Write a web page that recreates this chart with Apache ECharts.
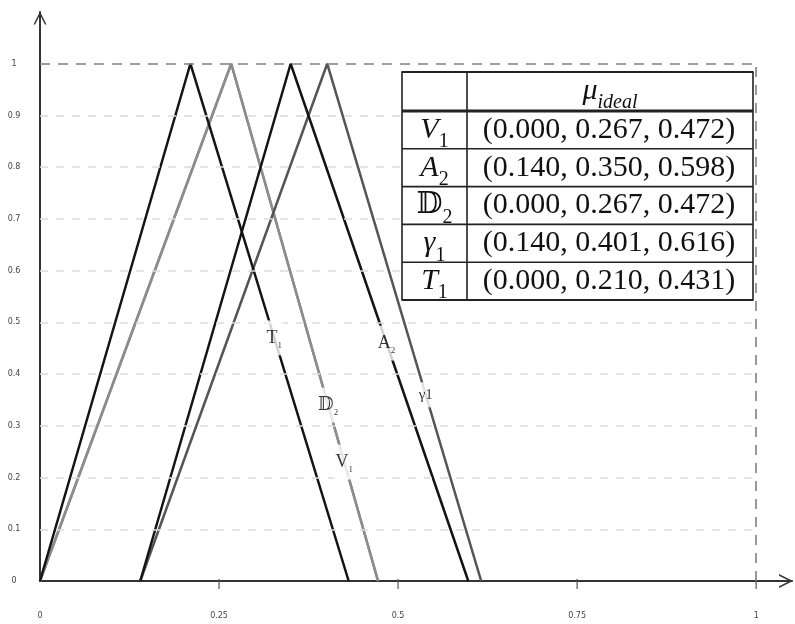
<!DOCTYPE html>
<html>
<head>
<meta charset="utf-8">
<script src="https://cdn.jsdelivr.net/npm/echarts@6/dist/echarts.min.js"></script>
<style>html,body{margin:0;padding:0;background:#fff;}#c{width:795px;height:624px;}</style>
</head>
<body>
<div id="c"></div>
<script>
// ---- data ----
const xTicks = [0, 0.25, 0.5, 0.75, 1];
const yTicks = [0.1, 0.2, 0.3, 0.4, 0.5, 0.6, 0.7, 0.8, 0.9];
const V1 = [0.000, 0.267, 0.472];
const A2 = [0.140, 0.350, 0.598];
const D2 = [0.000, 0.267, 0.472];
const G1 = [0.140, 0.401, 0.616];
const T1 = [0.000, 0.210, 0.431];
// label heights (membership value where the on-line label sits)
const labelY = { T1: 0.47, A2: 0.46, D2: 0.34, V1: 0.23, G1: 0.36 };

const tri = t => [[t[0], 0], [t[1], 1], [t[2], 0]];
const onDesc = (t, y) => [t[2] - y * (t[2] - t[1]), y];

const SERIF = "'Liberation Serif','DejaVu Serif',serif";
const chart = echarts.init(document.getElementById('c'), null, { renderer: 'canvas' });

function lineSeries(name, t, color) {
  return { name, type: 'line', data: tri(t), symbol: 'none', silent: true,
    lineStyle: { color, width: 2.5 }, z: 3 };
}

const labelRich = {
  m: { fontFamily: SERIF, fontSize: 18, color: '#000' },
  s: { fontFamily: SERIF, fontSize: 9, color: '#000', padding: [16, 0, 0, 0] },
  g: { fontFamily: SERIF, fontSize: 15, color: '#000' }
};
const labelPts = [
  { value: onDesc(T1, labelY.T1), txt: '{m|T}{s|1}' },
  { value: onDesc(A2, labelY.A2), txt: '{m|A}{s|2}' },
  { value: onDesc(D2, labelY.D2), txt: '{m|𝔻}{s|2}' },
  { value: onDesc(V1, labelY.V1), txt: '{m|V}{s|1}' },
  { value: onDesc(G1, labelY.G1), txt: '{g|γ1}' }
];

// table
const tableRows = [
  ['V', '1', V1, 'italic'], ['A', '2', A2, 'italic'], ['𝔻', '2', D2, 'normal'],
  ['γ', '1', G1, 'italic'], ['T', '1', T1, 'italic']
];
const tbl = { left: 402, right: 753, top: 72, headBottom: 111, rowH: 37.8, col: 467 };
const graphics = [];
const tBottom = tbl.headBottom + tableRows.length * tbl.rowH;
graphics.push({ type: 'rect', shape: { x: tbl.left, y: tbl.top, width: tbl.right - tbl.left, height: tBottom - tbl.top },
  style: { fill: '#fff', stroke: '#222', lineWidth: 1.6 }, z: 10 });
graphics.push({ type: 'line', shape: { x1: tbl.left, y1: tbl.top, x2: tbl.right, y2: tbl.top }, style: { stroke: '#222', lineWidth: 2 }, z: 11 });
graphics.push({ type: 'line', shape: { x1: tbl.left, y1: tbl.headBottom, x2: tbl.right, y2: tbl.headBottom }, style: { stroke: '#222', lineWidth: 3 }, z: 11 });
graphics.push({ type: 'line', shape: { x1: tbl.left, y1: tBottom, x2: tbl.right, y2: tBottom }, style: { stroke: '#222', lineWidth: 2 }, z: 11 });
graphics.push({ type: 'line', shape: { x1: tbl.col, y1: tbl.top, x2: tbl.col, y2: tBottom }, style: { stroke: '#222', lineWidth: 1.6 }, z: 11 });
graphics.push({ type: 'text', x: (tbl.col + tbl.right) / 2, y: (tbl.top + tbl.headBottom) / 2, z: 12,
  style: { text: '{m|μ}{s|ideal}', align: 'center', verticalAlign: 'middle',
    rich: { m: { fontFamily: SERIF, fontStyle: 'italic', fontSize: 30, fill: '#111' },
            s: { fontFamily: SERIF, fontStyle: 'italic', fontSize: 20, fill: '#111', padding: [22, 0, 0, 0] } } } });
tableRows.forEach((r, i) => {
  const y0 = tbl.headBottom + i * tbl.rowH;
  if (i > 0) graphics.push({ type: 'line', shape: { x1: tbl.left, y1: y0, x2: tbl.right, y2: y0 }, style: { stroke: '#222', lineWidth: 1.6 }, z: 11 });
  const cy = y0 + tbl.rowH / 2;
  graphics.push({ type: 'text', x: (tbl.left + tbl.col) / 2, y: cy, z: 12,
    style: { text: '{m|' + r[0] + '}{s|' + r[1] + '}', align: 'center', verticalAlign: 'middle',
      rich: { m: { fontFamily: SERIF, fontStyle: r[3], fontSize: 30, fill: '#111' },
              s: { fontFamily: SERIF, fontSize: 20, fill: '#111', padding: [24, 0, 0, 0] } } } });
  graphics.push({ type: 'text', x: (tbl.col + tbl.right) / 2 - 1, y: cy, z: 12,
    style: { text: '(' + r[2].map(v => v.toFixed(3)).join(', ') + ')', align: 'center', verticalAlign: 'middle',
      fontFamily: SERIF, fontSize: 30, fill: '#111' } });
});

const chevron = 'path://M0,12 L6,0 L12,12 L10.5,12 L6,3 L1.5,12 Z';

const option = {
  backgroundColor: '#fff',
  animation: false,
  grid: { left: 40, right: 2, top: 12, bottom: 43 },
  xAxis: {
    type: 'value', min: 0, max: 1.05, interval: 0.25,
    splitLine: { show: false },
    axisTick: { show: false },
    axisLine: { lineStyle: { color: '#333', width: 2 }, symbol: ['none', chevron], symbolSize: [17, 14], symbolOffset: [0, -6] },
    axisLabel: { margin: 31, fontSize: 8, color: '#444', fontFamily: 'DejaVu Sans',
      formatter: v => (xTicks.some(t => Math.abs(t - v) < 1e-6) ? String(v) : '') }
  },
  yAxis: {
    type: 'value', min: 0, max: 1.1, interval: 0.1,
    splitLine: { show: false },
    axisTick: { show: false },
    axisLine: { lineStyle: { color: '#333', width: 2 }, symbol: ['none', chevron], symbolSize: [17, 13], symbolOffset: [0, -6] },
    axisLabel: { margin: 26, fontSize: 8, color: '#444', fontFamily: 'DejaVu Sans', align: 'center',
      formatter: v => (v > 1.0001 ? '' : String(Math.round(v * 10) / 10)) }
  },
  graphic: graphics,
  series: [
    { type: 'line', data: [], silent: true,
      markLine: { silent: true, symbol: 'none', label: { show: false },
        lineStyle: { color: '#dcdcdc', width: 1.5, type: [8, 8] },
        data: yTicks.map(y => [{ coord: [0, y] }, { coord: [1, y] }]) } },
    { type: 'line', data: [], silent: true,
      markLine: { silent: true, symbol: 'none', label: { show: false },
        lineStyle: { color: '#808080', width: 1.6, type: [10, 8] },
        data: [[{ coord: [0, 1] }, { coord: [1, 1] }], [{ coord: [1, 0] }, { coord: [1, 1] }]] } },
    { type: 'scatter', silent: true, symbol: 'rect', symbolSize: [1.5, 10], symbolOffset: [0, 3],
      itemStyle: { color: '#555' }, data: xTicks.slice(1).map(x => [x, 0]), z: 4 },
    lineSeries('V1', V1, '#8c8c8c'),
    lineSeries('D2', D2, '#8c8c8c'),
    lineSeries('γ1', G1, '#555555'),
    lineSeries('A2', A2, '#141414'),
    lineSeries('T1', T1, '#141414'),
    { type: 'scatter', silent: true, symbolSize: 0, z: 6,
      data: labelPts.map(p => ({ value: p.value, label: { formatter: p.txt } })),
      label: { show: true, position: 'inside', backgroundColor: '#fff', padding: [5, 1], rich: labelRich } }
  ]
};
chart.setOption(option);
</script>
</body>
</html>
